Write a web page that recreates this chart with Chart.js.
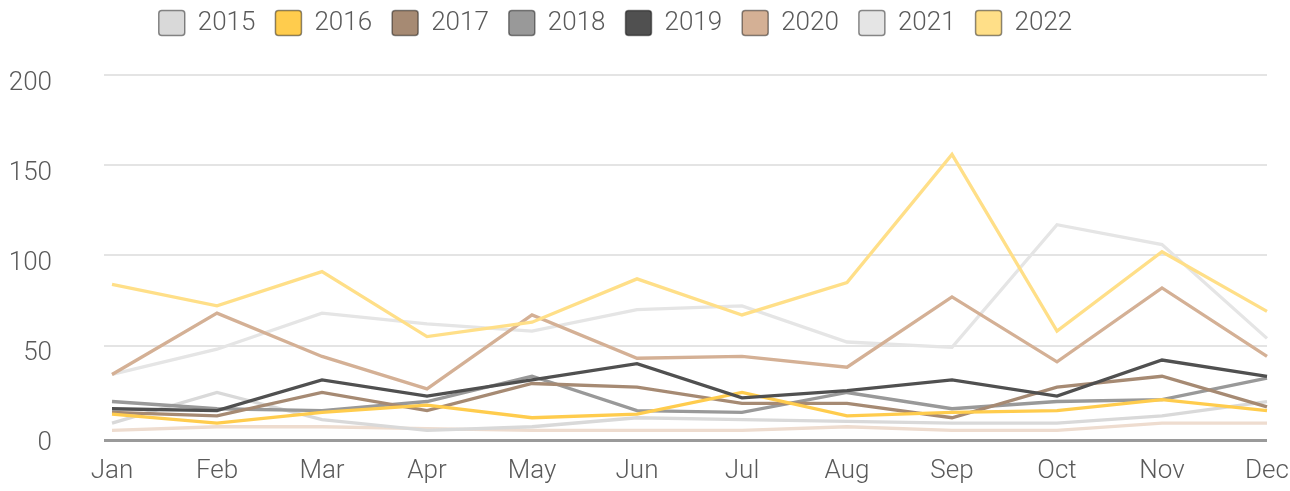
<!DOCTYPE html>
<html lang="en">
<head>
<meta charset="utf-8">
<title>Monthly totals by year</title>
<script src="https://cdn.jsdelivr.net/npm/chart.js@4.4.1/dist/chart.umd.min.js"></script>
<style>
  html, body { margin: 0; padding: 0; background: #fff; }
  #wrap { width: 1290px; height: 491px; position: relative; }
</style>
</head>
<body>
<div id="wrap"><canvas id="chart"></canvas></div>
<script>
const months = ["Jan", "Feb", "Mar", "Apr", "May", "Jun", "Jul", "Aug", "Sep", "Oct", "Nov", "Dec"];

const values2015 = [7, 24, 9, 3, 5, 10, 9, 8, 7, 7, 11, 19];
const values2016 = [12, 7, 13, 17, 10, 12, 24, 11, 13, 14, 20, 14];
const values2017 = [13, 11, 24, 14, 29, 27, 18, 18, 10, 27, 33, 16];
const values2018 = [19, 15, 14, 19, 33, 14, 13, 24, 15, 19, 20, 32];
const values2019 = [15, 14, 31, 22, 31, 40, 21, 25, 31, 22, 42, 33];
const values2020 = [34, 68, 44, 26, 67, 43, 44, 38, 77, 41, 82, 44];
const values2021 = [34, 48, 68, 62, 58, 70, 72, 52, 49, 117, 106, 54];
const values2022 = [84, 72, 91, 55, 63, 87, 67, 85, 156, 58, 102, 69];
// faint series without a legend entry
const valuesOther = [3, 5, 5, 4, 3, 3, 3, 5, 3, 3, 7, 7];

const yTicks = [0, 50, 100, 150, 200];

const TEXT_COLOR = "#5a5a5a";
const GRID_COLOR = "#e4e4e4";
const AXIS_COLOR = "#9a9a9a";

// a little room under zero for the axis line, some above 200 for the legend
const Y_MIN = -2.78;
const Y_MAX = 216.1;

const series = [
  { label: "2019", data: values2019, color: "#505050" },
  { label: "2016", data: values2016, color: "#ffcc4d" },
  { label: "2017", data: values2017, color: "#a68a73" },
  { label: "2018", data: values2018, color: "#999999" },
  { label: "2022", data: values2022, color: "#ffdf88" },
  { label: "2020", data: values2020, color: "#d4b095" },
  { label: "2015", data: values2015, color: "#d9d9d9" },
  { label: "2021", data: values2021, color: "#e5e5e5" },
  { label: "other", data: valuesOther, color: "#eedccf" }
];
const legendOrder = ["2015", "2016", "2017", "2018", "2019", "2020", "2021", "2022"];

Chart.defaults.font.family = "Roboto, 'Noto Sans', sans-serif";
Chart.defaults.font.size = 26;
Chart.defaults.font.weight = "300";
Chart.defaults.color = TEXT_COLOR;

function gridColor(ctx) {
  const v = ctx.tick.value;
  if (v === Y_MIN) return AXIS_COLOR;
  if (v === 0 || v > 200) return "rgba(0,0,0,0)";
  return GRID_COLOR;
}

function gridWidth(ctx) {
  return ctx.tick.value === Y_MIN ? 3 : 2;
}

function buildLegend(chart) {
  const items = Chart.defaults.plugins.legend.labels.generateLabels(chart)
    .filter(item => legendOrder.includes(item.text));
  items.forEach(item => {
    item.strokeStyle = "rgba(0,0,0,0.45)";
    item.lineWidth = 1.5;
  });
  return items.sort((a, b) => legendOrder.indexOf(a.text) - legendOrder.indexOf(b.text));
}

const ctx = document.getElementById("chart").getContext("2d");

new Chart(ctx, {
  type: "line",
  data: {
    labels: months,
    datasets: series.map(s => ({
      label: s.label,
      data: s.data,
      borderColor: s.color,
      backgroundColor: s.color,
      borderWidth: 3.3,
      pointRadius: 0,
      tension: 0,
      fill: false
    }))
  },
  options: {
    responsive: true,
    maintainAspectRatio: false,
    animation: false,
    layout: {
      padding: { top: -10, right: 23, bottom: -11, left: -36 }
    },
    plugins: {
      tooltip: { enabled: false },
      legend: {
        position: "top",
        align: "center",
        labels: {
          generateLabels: buildLegend,
          boxWidth: 26,
          boxHeight: 25,
          padding: 20,
          useBorderRadius: true,
          borderRadius: 3,
          color: TEXT_COLOR
        }
      }
    },
    scales: {
      x: {
        afterFit: scale => {
          scale.paddingLeft = 0;
          scale.paddingRight = 0;
        },
        grid: { display: false, drawTicks: false },
        border: { display: false },
        ticks: { autoSkip: false, maxRotation: 0, padding: 15 }
      },
      y: {
        min: Y_MIN,
        max: Y_MAX,
        afterBuildTicks: scale => {
          scale.ticks = [Y_MIN, ...yTicks, Y_MAX].map(value => ({ value }));
        },
        afterFit: scale => {
          scale.width = 148;
          scale.paddingTop = 0;
          scale.paddingBottom = 0;
        },
        grid: { color: gridColor, lineWidth: gridWidth, tickLength: 8 },
        border: { display: false },
        ticks: {
          autoSkip: false,
          padding: 52,
          labelOffset: 8,
          callback: value => (yTicks.includes(value) ? String(value) : "")
        }
      }
    }
  }
});
</script>
</body>
</html>
